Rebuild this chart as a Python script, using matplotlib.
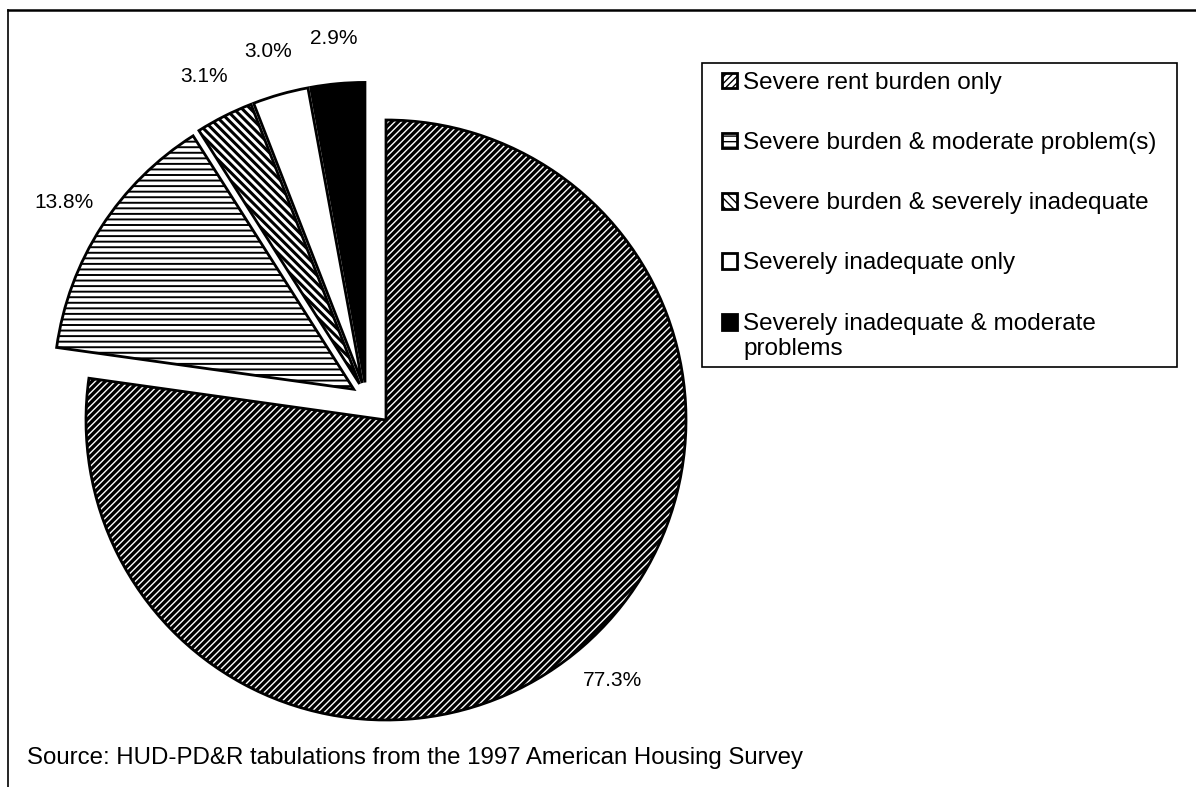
import numpy as np
import matplotlib.pyplot as plt
from matplotlib.patches import Rectangle
from matplotlib.lines import Line2D
from matplotlib.transforms import Affine2D
from matplotlib.legend_handler import HandlerPatch

plt.rcParams['font.family'] = ['Liberation Sans', 'DejaVu Sans']

# data
categories = ['Severe rent burden only',
              'Severe burden & moderate problem(s)',
              'Severe burden & severely inadequate',
              'Severely inadequate only',
              'Severely inadequate & moderate\nproblems']
shares = [77.3, 13.8, 3.1, 3.0, 2.9]
pct_labels = ['77.3%', '13.8%', '3.1%', '3.0%', '2.9%']
source = 'Source: HUD-PD&R tabulations from the 1997 American Housing Survey'

# styling
hatches = ['/////', '---', '\\\\\\\\', '', '']
faces = ['white', 'white', 'white', 'white', 'black']
hatch_lw = [2.4, 1.4, 2.2, 1.0, 1.0]
explode = [0, 0.05, 0.05, 0.05, 0.05]
group_shift = 0.10   # the small slices are pulled out together

W, H = 1196, 787
R = 300              # pie radius, px
cx, cy = 386, 420    # pie centre, px from top left

fig = plt.figure(figsize=(W / 100, H / 100), dpi=100)
ax = fig.add_axes([0, 0, 1, 1])

wedges, texts = ax.pie(shares, startangle=90, counterclock=False,
                       explode=explode, colors=faces, labels=pct_labels,
                       labeldistance=1.15,
                       wedgeprops=dict(edgecolor='black', linewidth=2.0),
                       textprops=dict(fontsize=15, ha='center', va='center'))

for w, h, lw in zip(wedges, hatches, hatch_lw):
    w.set_hatch(h)
    if hasattr(w, 'set_hatch_linewidth'):
        w.set_hatch_linewidth(lw)

# move the small slices (and their labels) out as one group
a_lo = min(min(w.theta1, w.theta2) for w in wedges[1:])
a_hi = max(max(w.theta1, w.theta2) for w in wedges[1:])
mid = np.deg2rad((a_lo + a_hi) / 2)
dx, dy = group_shift * np.cos(mid), group_shift * np.sin(mid)
for w, t in zip(wedges[1:], texts[1:]):
    w.set_transform(Affine2D().translate(dx, dy) + ax.transData)
    x, y = t.get_position()
    t.set_position((x + dx, y + dy))

ax.set_xlim(-cx / R, (W - cx) / R)
ax.set_ylim(-(H - cy) / R, cy / R)
ax.set_aspect('auto')
ax.axis('off')


# two-line legend entry: put the swatch next to the first line
def upper_swatch(legend, orig_handle, xdescent, ydescent, width, height, fontsize):
    return Rectangle((-xdescent, -ydescent + 0.6 * fontsize), width, height)


fig.legend(handles=wedges, labels=categories, loc='upper left',
           bbox_to_anchor=(722 / W, 1 - 72 / H), frameon=False,
           fontsize=17.5, handlelength=0.62, handleheight=0.62,
           handletextpad=0.25, labelspacing=1.57, borderpad=0,
           borderaxespad=0,
           handler_map={wedges[-1]: HandlerPatch(patch_func=upper_swatch)})
fig.add_artist(Rectangle((702 / W, 1 - 367 / H), 475 / W, 304 / H,
                         transform=fig.transFigure, fill=False,
                         edgecolor='black', linewidth=1.2))

# page frame: top and left only
fig.add_artist(Line2D([8 / W, 1], [1 - 10 / H, 1 - 10 / H],
                      transform=fig.transFigure, color='black', linewidth=1.8))
fig.add_artist(Line2D([8 / W, 8 / W], [0, 1 - 10 / H],
                      transform=fig.transFigure, color='black', linewidth=1.2))

fig.text(27 / W, 1 - 758 / H, source, fontsize=17.3, va='center')

fig.savefig('out.png', dpi=100)
